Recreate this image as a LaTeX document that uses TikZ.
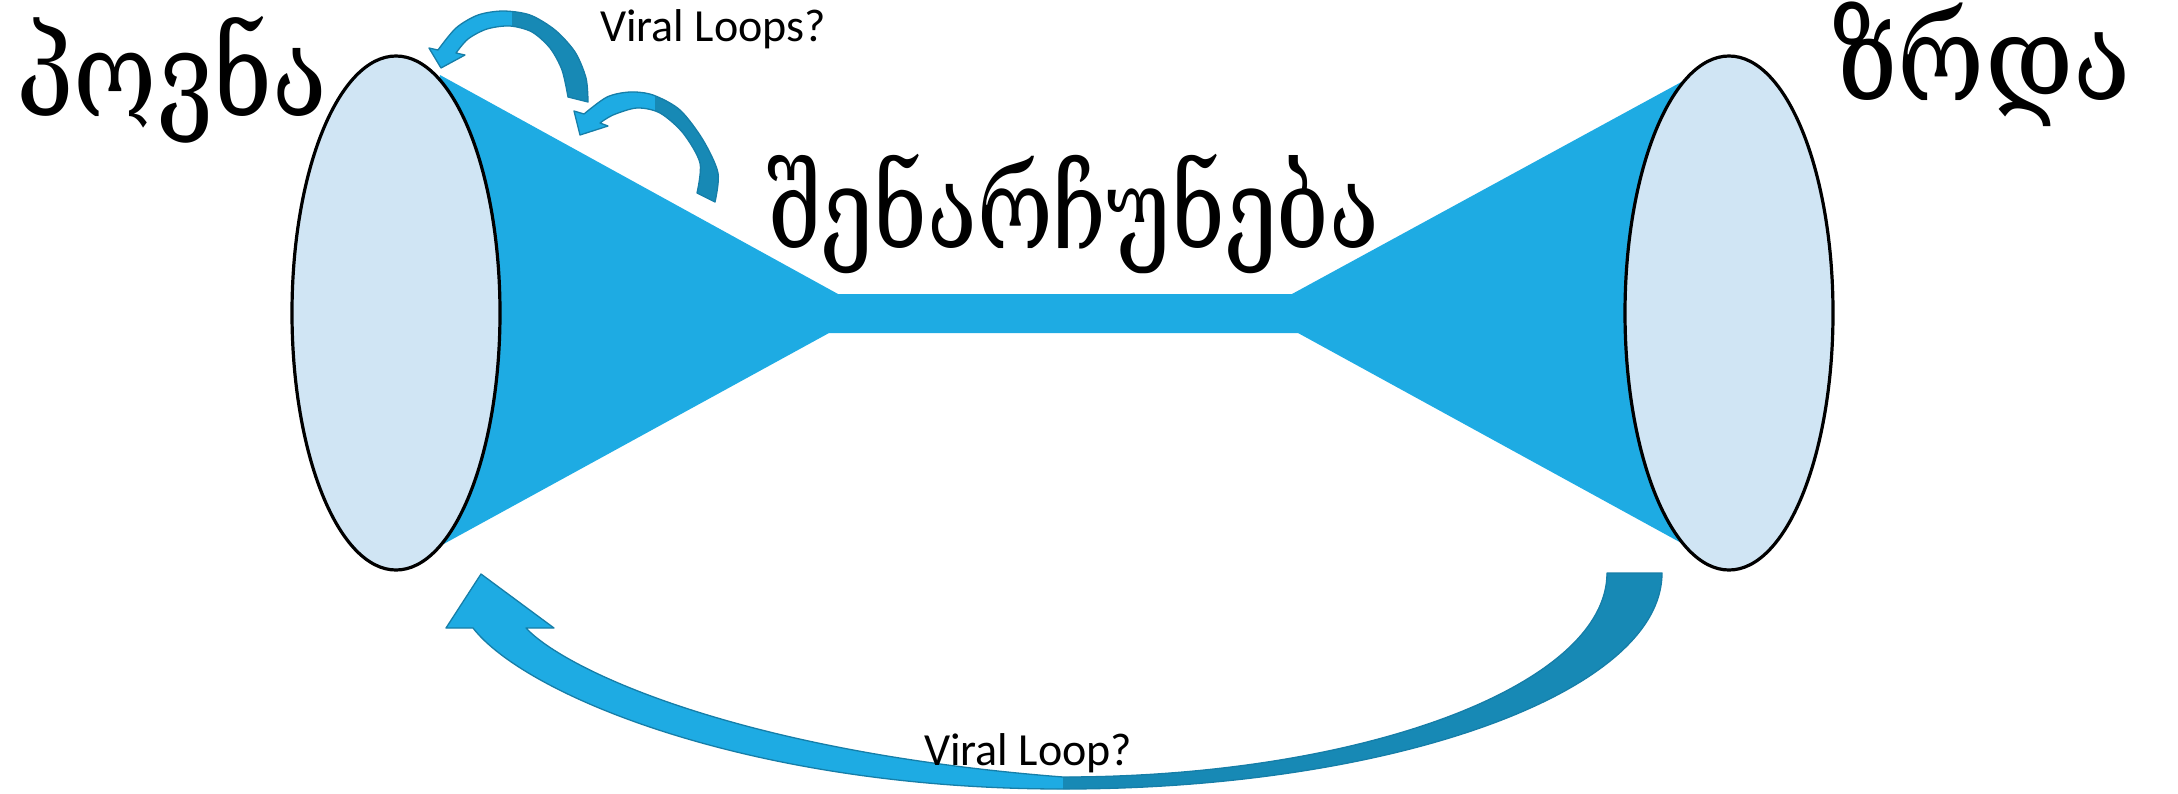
\documentclass[tikz,border=0pt]{standalone}
\usepackage{fontspec}
\setmainfont{Carlito}
\newfontfamily\geo{DejaVu Serif}
\usetikzlibrary{shapes.geometric}
\definecolor{funnelblue}{RGB}{30,171,227}
\definecolor{disclight}{RGB}{208,229,244}
\definecolor{arrowlight}{RGB}{30,171,227}
\definecolor{arrowdark}{RGB}{23,137,181}
\definecolor{arrowedge}{RGB}{22,126,168}
\begin{document}
\begin{tikzpicture}[x=1pt,y=-1pt,
  funnel/.style={fill=funnelblue},
  disc/.style={ellipse, draw=black, line width=3.2pt, fill=disclight,
    minimum width=208pt, minimum height=514pt, inner sep=0pt},
  arrowbody/.style={fill=arrowlight},
  arrowline/.style={draw=arrowedge, line width=1.3pt, line join=round},
  geotext/.style={inner sep=0pt},
  looplabel/.style={font=\fontsize{46}{50}\selectfont, inner sep=0pt}]
\useasboundingbox (0,0) rectangle (2178,793);

% funnel
\fill[funnel] (396,313) -- (440,75) -- (838,294) -- (1292,294) -- (1685,80)
  -- (1729,313) -- (1685,545) -- (1298,333) -- (829,333) -- (440,546) -- cycle;

% ellipses
\node[disc] (left) at (396,313) {};
\node[disc] (right) at (1729,313) {};

% small loop arrow 1
\def\arrA{(429,48) -- (441,68) -- (465,55)
  -- plot[smooth] coordinates {(456,53) (468,39) (487,29) (510,26) (532,32) (550,48) (562,70) (568,97)}
  -- plot[smooth] coordinates {(588,102) (586,78) (575,52) (555,30) (530,15) (503,11) (478,15) (456,28) (438,50)}
  -- cycle}
\fill[arrowbody] \arrA;
\begin{scope}
  \clip \arrA;
  \fill[arrowdark] (512,0) rectangle (620,120);
\end{scope}
\draw[arrowline] \arrA;

% small loop arrow 2
\def\arrB{(574,111) -- (580,135) -- (608,126)
  -- plot[smooth] coordinates {(600,123) (613,115) (637,108) (660,113) (683,133) (700,163) (697,193)}
  -- plot[smooth] coordinates {(715,202) (718,173) (703,140) (680,110) (653,95) (630,92) (607,97) (584,114)}
  -- cycle}
\fill[arrowbody] \arrB;
\begin{scope}
  \clip \arrB;
  \fill[arrowdark] (655,80) rectangle (740,220);
\end{scope}
\draw[arrowline] \arrB;

% big loop arrow
\def\arrC{(446,628) -- (481,574) -- (554,628) -- (526,628)
  .. controls (565,670) and (740,752) .. (1063,777)
  .. controls (1363,777) and (1607,685) .. (1607,573)
  -- (1662,573)
  .. controls (1662,692) and (1394,789) .. (1063,789)
  .. controls (750,789) and (525,695) .. (473,628) -- cycle}
\fill[arrowbody] \arrC;
\begin{scope}
  \clip \arrC;
  \fill[arrowdark] (1063,540) rectangle (1700,793);
\end{scope}
\draw[arrowline] \arrC;

% texts
\node[geotext, anchor=base west] (find) at (16,116)
  {\scalebox{1}[1.18]{\geo\fontsize{101}{110}\selectfont პოვნა}};
\node[geotext, anchor=base west] (keep) at (767,248)
  {\scalebox{1}[1.22]{\geo\fontsize{92}{100}\selectfont შენარჩუნება}};
\node[geotext, anchor=base west] (grow) at (1832,100)
  {\scalebox{1}[1.12]{\geo\fontsize{106}{115}\selectfont ზრდა}};
\node[looplabel, anchor=base west] (vla) at (600,41) {Viral Loops?};
\node[looplabel, anchor=base west] (vlb) at (924,765) {Viral Loop?};
\end{tikzpicture}
\end{document}
